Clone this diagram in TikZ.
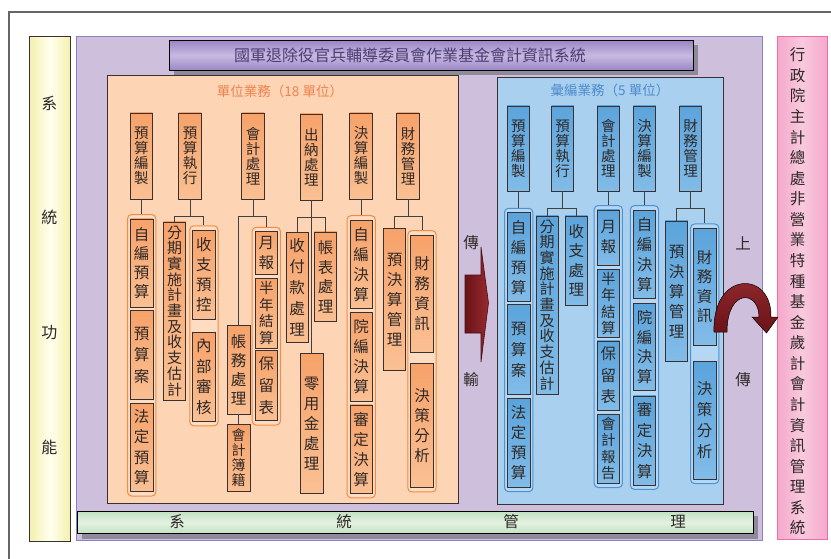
\documentclass[tikz,border=0pt]{standalone}
\usepackage{fontspec}
\setmainfont{Noto Sans CJK TC}
\usepackage{tikz}
\usetikzlibrary{positioning,fit,shadows,backgrounds}
\newlength{\boxWidth}
\setlength{\boxWidth}{22.5pt}
\newcommand{\boxfont}[2]{\fontsize{#1}{#2}\selectfont}
\definecolor{frameLine}{HTML}{666666}
\definecolor{boxLine}{HTML}{3A3030}
\definecolor{boxText}{HTML}{2E2826}
\definecolor{linkGray}{HTML}{404040}
\definecolor{funcSide}{HTML}{F4F0AE}
\definecolor{funcMid}{HTML}{FFFFEE}
\definecolor{sysFill}{HTML}{CEBFDD}
\definecolor{sysEdge}{HTML}{8A80C6}
\definecolor{titleDark}{HTML}{9B86C5}
\definecolor{titleLight}{HTML}{C7B9E1}
\definecolor{titleText}{HTML}{4A3E72}
\definecolor{shadowGray}{HTML}{8F8A99}
\definecolor{unitFill}{HTML}{FDD4B4}
\definecolor{unitTop}{HTML}{F7A26A}
\definecolor{unitBot}{HTML}{FAC093}
\definecolor{unitEdge}{HTML}{F08C44}
\definecolor{unitGroup}{HTML}{FDDCC2}
\definecolor{unitTitle}{HTML}{F0814E}
\definecolor{sumFill}{HTML}{AAD0F0}
\definecolor{sumTop}{HTML}{5BA4DC}
\definecolor{sumBot}{HTML}{82BCE8}
\definecolor{sumEdge}{HTML}{4B92D3}
\definecolor{sumGroup}{HTML}{B5D7F3}
\definecolor{sumTitle}{HTML}{4E8ACB}
\definecolor{mgtDark}{HTML}{C2E1C2}
\definecolor{mgtLight}{HTML}{E3F2E1}
\definecolor{mofSide}{HTML}{F4A9CA}
\definecolor{mofMid}{HTML}{F8C9DF}
\definecolor{mofEdge}{HTML}{EE6DA9}
\definecolor{arrowDark}{HTML}{6A1317}
\definecolor{arrowLight}{HTML}{962B30}
\tikzset{
  ubox/.style={shape=rectangle, draw=boxLine, line width=0.8pt, minimum width=\boxWidth, inner sep=1pt, align=center, text=boxText, top color=unitTop, bottom color=unitBot, font=\boxfont{15.5}{20}},
  sbox/.style={ubox, top color=sumTop, bottom color=sumBot},
  uhead/.style={ubox, minimum height=86pt, font=\boxfont{14.5}{15}},
  shead/.style={sbox, minimum height=85pt, font=\boxfont{14.5}{15}},
  lsp/.style={font=\boxfont{15.5}{#1}},
  ugroup/.style={draw=unitEdge, fill=unitGroup, line width=1pt, rounded corners=4pt, inner xsep=2.5pt, inner ysep=4pt},
  sgroup/.style={ugroup, draw=sumEdge, fill=sumGroup},
  link/.style={draw=linkGray, line width=1pt},
  panel/.style={shape=rectangle, anchor=north west, inner sep=0pt},
  sidelbl/.style={font=\boxfont{15.5}{16}, text=boxText}
}
\begin{document}
\begin{tikzpicture}[x=1pt, y=-1pt]
\useasboundingbox (0,0) rectangle (831,559);
\begin{scope}[on background layer]
    \draw[frameLine, line width=1.2pt] (831,12) -- (9,12) -- (9,559);
    \node[panel, draw=boxLine, line width=0.8pt, left color=funcSide, right color=funcSide, middle color=funcMid, minimum width=41pt, minimum height=505pt] (funcBar) at (29,36) {};
    \node[panel, draw=sysEdge, line width=1pt, fill=sysFill, minimum width=685.7pt, minimum height=504pt] (sysPanel) at (76,36) {};
    \node[panel, draw=black, line width=0.8pt, top color=titleDark, bottom color=titleDark, middle color=titleLight, minimum width=523.7pt, minimum height=30pt, drop shadow={shadow xshift=4.5pt, shadow yshift=-5pt, fill=shadowGray, opacity=1}] (titleBar) at (169,40) {};
    \node[panel, draw=boxLine, line width=0.8pt, fill=unitFill, minimum width=350.7pt, minimum height=428pt] (unitPanel) at (107,75) {};
    \node[panel, draw=boxLine, line width=0.8pt, fill=sumFill, minimum width=226pt, minimum height=427.3pt] (sumPanel) at (496.7,76.7) {};
    \node[panel, draw=black, line width=0.8pt, top color=mgtDark, bottom color=mgtDark, middle color=mgtLight, minimum width=676pt, minimum height=22.3pt, drop shadow={shadow xshift=5pt, shadow yshift=-5pt, fill=shadowGray, opacity=1}] (mgtBar) at (77,511) {};
    \node[panel, draw=mofEdge, line width=1pt, left color=mofSide, right color=mofSide, middle color=mofMid, minimum width=50pt, minimum height=503pt] (mofBar) at (776.7,36) {};
\end{scope}

\node[font=\boxfont{16}{114.7}, align=center, text=boxText] (funcTxt) at (49.5,275) {系\\統\\功\\能};
\node[font=\boxfont{15.5}{20.57}, align=center, text=boxText] (mofTxt) at (797.7,291.5) {行\\政\\院\\主\\計\\總\\處\\非\\營\\業\\特\\種\\基\\金\\歲\\計\\會\\計\\資\\訊\\管\\理\\系\\統};
\foreach \c [count=\i] in {系,統,管,理}
    \node[sidelbl] (mgt\i) at ({10+167*\i},522) {\c};
\node[font=\boxfont{16}{16}, text=titleText] (titleTxt) at (410,55) {國軍退除役官兵輔導委員會作業基金會計資訊系統};
\node[font=\boxfont{13.5}{15}, text=unitTitle] (unitTitle) at (280,91) {單位業務（18 單位）};
\node[font=\boxfont{13.5}{15}, text=sumTitle] (sumTitle) at (610,90) {彙編業務（5 單位）};

\begin{scope}[every node/.style={uhead}]
    \node (uA) at (141.3,156) {預\\算\\編\\製};
    \node (uB) at (190,156) {預\\算\\執\\行};
    \node (uC) at (253,156) {會\\計\\處\\理};
    \node (uD) at (311.3,157) {出\\納\\處\\理};
    \node (uE) at (361,156) {決\\算\\編\\製};
    \node (uF) at (408,156) {財\\務\\管\\理};
\end{scope}
\begin{scope}[every node/.style={ubox}, node distance=3pt]
    \node[minimum height=88pt, lsp=19] (uAa) at (141.7,263) {自\\編\\預\\算};
    \node[minimum height=88.5pt, lsp=21.5, below=of uAa] (uAb) {預\\算\\案};
    \node[minimum height=88.5pt, lsp=20.5, below=of uAb] (uAc) {法\\定\\預\\算};
    \node[minimum height=178pt, font=\boxfont{15}{15.7}] (uBa) at (174.5,311) {分\\期\\實\\施\\計\\畫\\及\\收\\支\\估\\計};
    \node[minimum height=89pt] (uBb) at (203.9,274.7) {收\\支\\預\\控};
    \node[minimum height=89pt, lsp=20.5, below=12.4pt of uBb] (uBc) {內\\部\\審\\核};
    \node[minimum height=89pt, lsp=19] (uCa) at (238.7,369.5) {帳\\務\\處\\理};
    \node[minimum height=67.4pt, font=\boxfont{14}{15}, below=9.3pt of uCa] (uCb) {會\\計\\簿\\籍};
    \node[minimum height=42.6pt] (uCc) at (266.3,253) {月\\報};
    \node[minimum height=70pt, font=\boxfont{14.5}{16.7}, below=of uCc] (uCd) {半\\年\\結\\算};
    \node[minimum height=70pt, lsp=21.7, below=1.7pt of uCd] (uCe) {保\\留\\表};
    \node[minimum height=110.3pt, lsp=21] (uDa) at (297.2,287.2) {收\\付\\款\\處\\理};
    \node[minimum height=89.7pt, lsp=19.5] (uDb) at (325.5,276.8) {帳\\表\\處\\理};
    \node[minimum height=140pt] (uDc) at (311.7,423.3) {零\\用\\金\\處\\理};
    \node[minimum height=88.3pt] (uEa) at (361.2,264.2) {自\\編\\決\\算};
    \node[minimum height=89pt, below=of uEa] (uEb) {院\\編\\決\\算};
    \node[minimum height=88.4pt, below=of uEb] (uEc) {審\\定\\決\\算};
    \node[minimum height=141.7pt] (uFa) at (394.5,299.2) {預\\決\\算\\管\\理};
    \node[minimum height=117.3pt] (uFb) at (422,293.7) {財\\務\\資\\訊};
    \node[minimum height=124pt, below=10.4pt of uFb] (uFc) {決\\策\\分\\析};
\end{scope}

\begin{scope}[every node/.style={shead}]
    \node (sA) at (518.3,148.5) {預\\算\\編\\製};
    \node (sB) at (562.5,148.5) {預\\算\\執\\行};
    \node (sC) at (608.3,148.5) {會\\計\\處\\理};
    \node (sD) at (644.5,148.5) {決\\算\\編\\製};
    \node (sE) at (690.5,148.5) {財\\務\\管\\理};
\end{scope}
\begin{scope}[every node/.style={sbox}, node distance=3pt]
    \node[minimum height=89pt] (sAa) at (518.7,257.2) {自\\編\\預\\算};
    \node[minimum height=89.3pt, lsp=21, below=2.3pt of sAa] (sAb) {預\\算\\案};
    \node[minimum height=89pt, below=3.4pt of sAb] (sAc) {法\\定\\預\\算};
    \node[minimum height=178pt, font=\boxfont{15}{15.7}] (sBa) at (547.2,305) {分\\期\\實\\施\\計\\畫\\及\\收\\支\\估\\計};
    \node[minimum height=89pt, lsp=19.5] (sBb) at (576.3,260.5) {收\\支\\處\\理};
    \node[minimum height=55pt] (sCa) at (608.3,237.5) {月\\報};
    \node[minimum height=68.4pt, font=\boxfont{14.5}{16.5}, below=3.3pt of sCa] (sCb) {半\\年\\結\\算};
    \node[minimum height=69pt, lsp=21.5, below=2.6pt of sCb] (sCc) {保\\留\\表};
    \node[minimum height=69pt, font=\boxfont{14.5}{16.5}, below=3.4pt of sCc] (sCd) {會\\計\\報\\告};
    \node[minimum height=88.3pt] (sDa) at (644.5,254.2) {自\\編\\決\\算};
    \node[minimum height=87.7pt, lsp=19.5, below=4pt of sDa] (sDb) {院\\編\\決\\算};
    \node[minimum height=89pt, lsp=20.5, below=4.3pt of sDb] (sDc) {審\\定\\決\\算};
    \node[minimum height=140.7pt] (sEa) at (676.5,291.3) {預\\決\\算\\管\\理};
    \node[minimum height=116.7pt, lsp=19.5] (sEb) at (704.7,286.7) {財\\務\\資\\訊};
    \node[minimum height=117.3pt, lsp=21, below=16pt of sEb] (sEc) {決\\策\\分\\析};
\end{scope}

\begin{scope}[on background layer]
    \node[ugroup, fit=(uAa)(uAc)] (uAg) {};
    \node[ugroup, fit=(uBb)(uBc)] (uBg) {};
    \node[ugroup, fit=(uCc)(uCe)] (uCg) {};
    \node[ugroup, fit=(uEa)(uEc)] (uEg) {};
    \node[ugroup, fit=(uFb)(uFc)] (uFg) {};
    \node[sgroup, fit=(sAa)(sAc)] (sAg) {};
    \node[sgroup, fit=(sCa)(sCd)] (sCg) {};
    \node[sgroup, fit=(sDa)(sDc)] (sDg) {};
    \node[sgroup, fit=(sEb)(sEc)] (sEg) {};
\end{scope}

\draw[link] (uA.south) -- (uA.south |- uAg.north);
\draw[link] (uB.south) -- ++(0,17) coordinate (uBj);
\draw[link] (uBa.north) |- (uBj) -| (uBg.north);
\draw[link] (uC.south) -- ++(0,17) coordinate (uCj);
\draw[link] (uCa.north) |- (uCj) -| (uCg.north);
\draw[link] (uCa.south) -- (uCa.south |- uCb.north);
\draw[link] (uD.south) -- (uD.south |- uDc.north);
\path (uD.south) ++(0,17) coordinate (uDj);
\draw[link] (uDa.north) |- (uDj) -| (uDb.north);
\draw[link] (uE.south) -- (uE.south |- uEg.north);
\draw[link] (uF.south) -- ++(0,17) coordinate (uFj);
\draw[link] (uFa.north) |- (uFj) -| (uFg.north);

\draw[link] (sA.south) -- (sA.south |- sAg.north);
\draw[link] (sB.south) -- ++(0,17) coordinate (sBj);
\draw[link] (sBa.north) |- (sBj) -| (sBb.north);
\draw[link] (sC.south) -- (sC.south |- sCg.north);
\draw[link] (sD.south) -- (sD.south |- sDg.north);
\draw[link] (sE.south) -- ++(0,17) coordinate (sEj);
\draw[link] (sEa.north) |- (sEj) -| (sEg.north);

\node[sidelbl] (xferA) at (471,243) {傳};
\node[sidelbl] (xferB) at (471,380) {輸};
\node[sidelbl] (upA) at (743,243) {上};
\node[sidelbl] (upB) at (743,380) {傳};
\shade[left color=arrowDark, right color=arrowLight, draw=arrowDark!70!black, line width=0.6pt]
    (465,275) -- (481,275) -- (481,247) -- (488.5,303) -- (481,362) -- (481,333) -- (465,333) -- cycle;
\shade[top color=arrowLight, bottom color=arrowDark, draw=black, line width=0.5pt]
    (714,332) .. controls (712,270) and (772,270) .. (771,317) -- (778,317) -- (766.5,333) -- (752,317) -- (759,317)
    .. controls (759,290) and (727,288) .. (727,332) -- cycle;
\end{tikzpicture}
\end{document}
